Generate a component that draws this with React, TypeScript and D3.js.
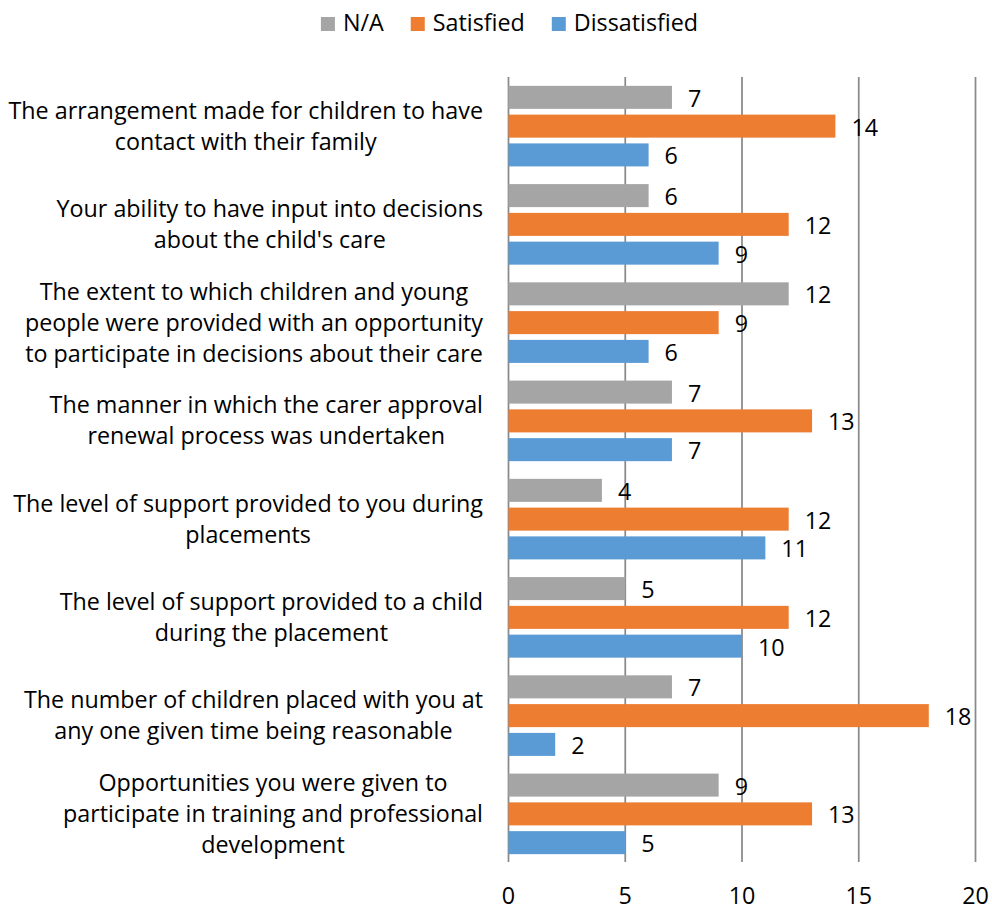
import React, { useEffect, useRef } from "react";
import * as d3 from "d3";

const categoryLabels: string[][] = [
  ["The arrangement made for children to have", "contact with their family"],
  ["Your ability to have input into decisions", "about the child's care"],
  ["The extent to which children and young", "people were provided with an opportunity", "to participate in decisions about their care"],
  ["The manner in which the carer approval", "renewal process was undertaken"],
  ["The level of support provided to you during", "placements"],
  ["The level of support provided to a child", "during the placement"],
  ["The number of children placed with you at", "any one given time being reasonable"],
  ["Opportunities you were given to", "participate in training and professional", "development"],
];
const seriesNames = ["N/A", "Satisfied", "Dissatisfied"];
const naValues = [7, 6, 12, 7, 4, 5, 7, 9];
const satisfiedValues = [14, 12, 9, 13, 12, 12, 18, 13];
const dissatisfiedValues = [6, 9, 6, 7, 11, 10, 2, 5];
const xTicks = [0, 5, 10, 15, 20];
const seriesColors = ["#A5A5A5", "#ED7D31", "#5B9BD5"];

const W = 992;
const H = 907;
const FONT = "'Open Sans', 'Noto Sans', sans-serif";
const FS = 23.3;

export default function App() {
  const ref = useRef<SVGSVGElement | null>(null);

  useEffect(() => {
    const svg = d3.select(ref.current);
    svg.selectAll("*").remove();

    const seriesValues = [naValues, satisfiedValues, dissatisfiedValues];
    const cats = categoryLabels.map((_, i) => String(i));

    const x = d3.scaleLinear().domain([0, 20]).range([508.5, 975.5]);
    const y0 = d3.scaleBand().domain(cats).range([77, 863]).paddingInner(0.18).paddingOuter(0.09);
    const y1 = d3.scaleBand().domain(seriesNames).range([0, y0.bandwidth()]).paddingInner(0.2).paddingOuter(0);

    // gridlines
    svg.append("g")
      .selectAll("line")
      .data(xTicks)
      .join("line")
      .attr("x1", (d) => x(d))
      .attr("x2", (d) => x(d))
      .attr("y1", 77)
      .attr("y2", 862)
      .attr("stroke", "#8a8a8a")
      .attr("stroke-width", 1.75);

    // tick labels
    svg.append("g")
      .selectAll("text")
      .data(xTicks)
      .join("text")
      .attr("x", (d) => x(d))
      .attr("y", 904)
      .attr("text-anchor", "middle")
      .attr("font-family", FONT)
      .attr("font-size", FS)
      .attr("fill", "#000")
      .text((d) => String(d));

    // bars
    const groups = svg.append("g")
      .selectAll("g")
      .data(cats)
      .join("g")
      .attr("transform", (c) => `translate(0,${y0(c)})`);

    groups.each(function (c, gi) {
      const g = d3.select(this);
      seriesNames.forEach((s, si) => {
        const v = seriesValues[si][gi];
        g.append("rect")
          .attr("x", x(0))
          .attr("y", y1(s)!)
          .attr("width", x(v) - x(0))
          .attr("height", y1.bandwidth())
          .attr("fill", seriesColors[si]);
      });
      seriesNames.forEach((s, si) => {
        const v = seriesValues[si][gi];
        g.append("text")
          .attr("x", x(v) + 16)
          .attr("y", y1(s)! + y1.bandwidth() / 2 + 9.5)
          .attr("font-family", FONT)
          .attr("font-size", FS)
          .attr("fill", "#000")
          .text(String(v));
      });
    });

    // category labels
    const lineH = 31;
    categoryLabels.forEach((lines, i) => {
      const center = y0(String(i))! + y0.bandwidth() / 2;
      const g = svg.append("g");
      const texts = lines.map((ln, li) =>
        g.append("text")
          .attr("x", 0)
          .attr("y", center + (li - (lines.length - 1) / 2) * lineH + 8)
          .attr("text-anchor", "middle")
          .attr("font-family", FONT)
          .attr("font-size", FS)
          .attr("fill", "#000")
          .text(ln)
      );
      const maxW = d3.max(texts, (t) => (t.node() as SVGTextElement).getComputedTextLength()) || 0;
      g.attr("transform", `translate(${483 - maxW / 2},0)`);
    });

    // legend
    const leg = svg.append("g");
    let cx = 0;
    seriesNames.forEach((s, si) => {
      leg.append("rect")
        .attr("x", cx)
        .attr("y", 17)
        .attr("width", 14)
        .attr("height", 14)
        .attr("fill", seriesColors[si]);
      const t = leg.append("text")
        .attr("x", cx + 22)
        .attr("y", 31)
        .attr("font-family", FONT)
        .attr("font-size", FS)
        .attr("fill", "#000")
        .text(s);
      const tw = (t.node() as SVGTextElement).getComputedTextLength();
      cx += 22 + tw + 27;
    });
    const legW = cx - 27;
    leg.attr("transform", `translate(${509.5 - legW / 2},0)`);
  }, []);

  return (
    <div style={{ position: "absolute", left: 0, top: 0 }}>
      <svg ref={ref} width={W} height={H} style={{ display: "block", background: "#fff" }} />
    </div>
  );
}
